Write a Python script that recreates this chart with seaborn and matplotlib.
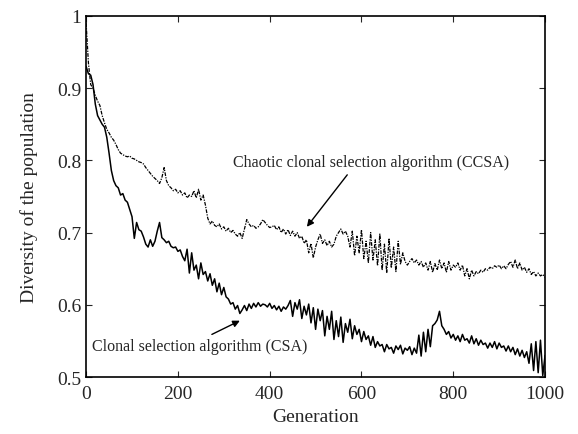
import numpy as np
import pandas as pd
import matplotlib
matplotlib.use('Agg')
import matplotlib.pyplot as plt
import seaborn as sns

# generations sampled every 5 steps
generation = list(range(0, 1001, 5))

csa = [0.93, 0.92, 0.918, 0.905, 0.878, 0.862, 0.856, 0.85, 0.846, 0.832,
       0.81, 0.786, 0.772, 0.765, 0.762, 0.752, 0.754, 0.745, 0.742, 0.732,
       0.722, 0.692, 0.714, 0.704, 0.702, 0.694, 0.684, 0.68, 0.69, 0.681,
       0.688, 0.702, 0.714, 0.693, 0.69, 0.686, 0.688, 0.681, 0.679, 0.68,
       0.674, 0.676, 0.667, 0.661, 0.677, 0.644, 0.672, 0.648, 0.655, 0.636,
       0.658, 0.642, 0.646, 0.633, 0.643, 0.627, 0.636, 0.618, 0.63, 0.614,
       0.624, 0.611, 0.608, 0.601, 0.603, 0.594, 0.599, 0.588, 0.593, 0.599,
       0.592, 0.601, 0.595, 0.602, 0.597, 0.603, 0.598, 0.601, 0.60, 0.597,
       0.602, 0.595, 0.599, 0.593, 0.598, 0.591, 0.597, 0.594, 0.599, 0.606,
       0.584, 0.603, 0.594, 0.607, 0.581, 0.598, 0.586, 0.601, 0.575, 0.596,
       0.566, 0.594, 0.578, 0.592, 0.557, 0.584, 0.566, 0.591, 0.552, 0.578,
       0.556, 0.583, 0.548, 0.574, 0.562, 0.58, 0.553, 0.571, 0.559, 0.566,
       0.549, 0.563, 0.552, 0.557, 0.544, 0.556, 0.541, 0.549, 0.543, 0.545,
       0.535, 0.545, 0.539, 0.541, 0.533, 0.543, 0.538, 0.544, 0.532, 0.54,
       0.537, 0.542, 0.531, 0.54, 0.533, 0.558, 0.529, 0.562, 0.535, 0.566,
       0.542, 0.571, 0.574, 0.579, 0.591, 0.571, 0.566, 0.559, 0.563, 0.554,
       0.559, 0.551, 0.557, 0.549, 0.559, 0.551, 0.553, 0.547, 0.557, 0.546,
       0.553, 0.544, 0.551, 0.545, 0.547, 0.54, 0.547, 0.541, 0.549, 0.539,
       0.547, 0.541, 0.543, 0.536, 0.543, 0.535, 0.541, 0.531, 0.539, 0.529,
       0.537, 0.527, 0.535, 0.519, 0.546, 0.509, 0.549, 0.506, 0.551, 0.502,
       0.53]

ccsa = [0.99, 0.935, 0.905, 0.90, 0.89, 0.882, 0.876, 0.862, 0.852, 0.843,
        0.838, 0.832, 0.828, 0.822, 0.815, 0.81, 0.808, 0.806, 0.805, 0.806,
        0.803, 0.802, 0.80, 0.798, 0.797, 0.795, 0.79, 0.786, 0.782, 0.778,
        0.775, 0.772, 0.768, 0.776, 0.79, 0.772, 0.765, 0.762, 0.758, 0.76,
        0.755, 0.758, 0.752, 0.755, 0.748, 0.752, 0.75, 0.758, 0.748, 0.76,
        0.745, 0.752, 0.738, 0.72, 0.712, 0.716, 0.71, 0.708, 0.712, 0.705,
        0.708, 0.702, 0.706, 0.70, 0.703, 0.698, 0.695, 0.70, 0.692, 0.705,
        0.718, 0.712, 0.708, 0.71, 0.706, 0.708, 0.712, 0.718, 0.714, 0.71,
        0.707, 0.708, 0.71, 0.704, 0.708, 0.70, 0.705, 0.698, 0.704, 0.696,
        0.702, 0.695, 0.70, 0.692, 0.695, 0.685, 0.69, 0.672, 0.685, 0.665,
        0.68, 0.69, 0.698, 0.685, 0.69, 0.682, 0.688, 0.68, 0.684, 0.695,
        0.70, 0.705, 0.698, 0.702, 0.695,
        0.68, 0.702, 0.668, 0.695, 0.672, 0.704, 0.664, 0.688, 0.658, 0.70,
        0.662, 0.69, 0.654, 0.698, 0.648, 0.684, 0.644, 0.692, 0.651, 0.68,
        0.646, 0.688, 0.656, 0.672, 0.66,
        0.655, 0.66, 0.664, 0.658, 0.662, 0.655, 0.66, 0.652, 0.658, 0.648,
        0.66, 0.645, 0.657, 0.648, 0.662, 0.65, 0.658, 0.645, 0.66, 0.648,
        0.655, 0.652, 0.658, 0.648, 0.655, 0.64, 0.65, 0.636, 0.648, 0.64,
        0.646, 0.643, 0.648, 0.645, 0.65, 0.648, 0.652, 0.65, 0.654, 0.652,
        0.655, 0.65, 0.654, 0.65, 0.656, 0.66, 0.652, 0.662, 0.65, 0.658,
        0.648, 0.652, 0.645, 0.65, 0.642, 0.646, 0.64, 0.644, 0.64, 0.642,
        0.638]

df = pd.DataFrame({'Generation': generation, 'CSA': csa, 'CCSA': ccsa})

sns.set_style('ticks')
plt.rcParams['font.family'] = ['Liberation Serif', 'DejaVu Serif']

fig = plt.figure(figsize=(5.78, 4.35), dpi=100)
ax = fig.add_axes([0.149, 0.131, 0.794, 0.830])

sns.lineplot(x='Generation', y='CSA', data=df, ax=ax, color='black', linewidth=1.1)
sns.lineplot(x='Generation', y='CCSA', data=df, ax=ax, color='black',
             linewidth=0.9, linestyle=(0, (3, 1, 1, 1)))

ax.set_xlim(0, 1000)
ax.set_ylim(0.5, 1.0)
ax.set_xticks([0, 200, 400, 600, 800, 1000])
ax.set_yticks([0.5, 0.6, 0.7, 0.8, 0.9, 1.0])
ax.set_yticklabels(['0.5', '0.6', '0.7', '0.8', '0.9', '1'])
ax.tick_params(direction='in', top=True, right=True, labelsize=14, length=4)
ax.tick_params(axis='x', pad=6)
for s in ax.spines.values():
    s.set_linewidth(1.2)
    s.set_color('black')

ax.set_xlabel('Generation', fontsize=14)
ax.set_ylabel('Diversity of the population', fontsize=14, labelpad=14)

ax.text(621, 0.798, 'Chaotic clonal selection algorithm (CCSA)', fontsize=11.5,
        ha='center', va='center')
ax.annotate('', xy=(481, 0.708), xytext=(569, 0.780),
            arrowprops=dict(arrowstyle='-|>', color='black', lw=1,
                            shrinkA=0, shrinkB=0, mutation_scale=10))
ax.text(247, 0.543, 'Clonal selection algorithm (CSA)', fontsize=11.5,
        ha='center', va='center')
ax.annotate('', xy=(335, 0.578), xytext=(274, 0.559),
            arrowprops=dict(arrowstyle='-|>', color='black', lw=1,
                            shrinkA=0, shrinkB=0, mutation_scale=10))

fig.savefig('out.png', dpi=100)
